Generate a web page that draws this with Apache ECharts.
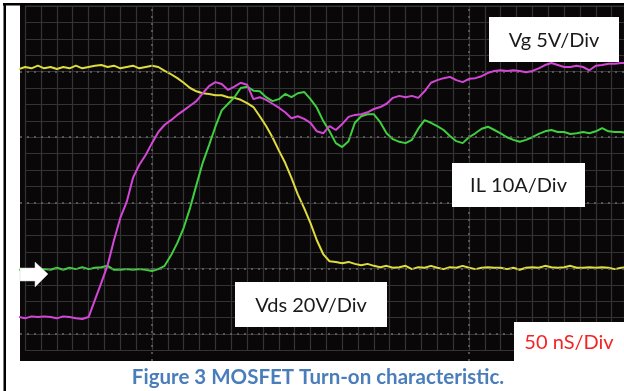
<!DOCTYPE html>
<html>
<head>
<meta charset="utf-8">
<script src="https://cdn.jsdelivr.net/npm/echarts@6/dist/echarts.min.js"></script>
<style>
  html, body { margin: 0; padding: 0; background: #fff; }
  #chart { width: 624px; height: 391px; }
</style>
</head>
<body>
<div id="chart"></div>
<script>
// time base in ns (50 ns/Div, dotted lines every division)
const time = [-21,-20,-19,-18,-17,-16,-15,-14,-13,-12,-11,-10,-9,-8,-7,-6,-5,-4,-3,-2,-1,
  0,1,2,3,4,5,6,7,8,9,10,11,12,13,14,15,16,17,18,19,20,21,22,23,24,25,26,27,28,29,30,
  31,32,33,34,35,36,37,38,39,40,41,42,43,44,45,46,47,48,49,50,51,52,53,54,55,56,57,58,59,60,
  61,62,63,64,65,66,67,68,69,70,71,72,73,74,75];

// trace levels in screen divisions from the lower dotted line
const vds = [4.04,4.07,4.05,4.09,4.05,4.07,4.04,4.07,4.05,4.09,4.05,4.07,4.09,4.10,4.07,4.09,4.05,4.07,4.09,4.05,4.07,
  4.09,4.07,4.01,3.96,3.90,3.83,3.75,3.70,3.67,3.66,3.64,3.64,3.61,3.60,3.57,3.52,3.46,3.32,3.17,3.00,2.80,2.61,2.38,2.13,1.92,1.69,1.43,1.22,1.11,1.10,1.08,
  1.10,1.07,1.05,1.07,1.04,1.02,1.04,1.01,1.02,1.04,0.99,1.02,1.01,1.04,1.01,0.99,1.02,1.01,1.04,1.01,0.99,1.01,1.02,1.01,1.01,0.99,1.01,0.98,1.01,1.02,
  1.01,1.04,1.02,1.01,1.02,1.04,1.01,1.01,1.02,1.01,1.02,1.01,0.99,1.01,1.02];

const vg = [0.26,0.24,0.27,0.26,0.27,0.26,0.24,0.27,0.26,0.24,0.23,0.26,0.52,0.78,1.05,1.43,1.77,2.01,2.38,2.58,2.73,
  2.91,3.08,3.19,3.26,3.34,3.41,3.48,3.55,3.67,3.78,3.84,3.81,3.72,3.77,3.83,3.80,3.58,3.61,3.57,3.51,3.45,3.38,3.29,3.32,3.28,3.22,3.09,3.06,3.17,3.11,3.20,
  3.31,3.34,3.35,3.38,3.43,3.46,3.51,3.60,3.63,3.61,3.63,3.60,3.70,3.83,3.87,3.90,3.92,3.87,3.84,3.89,3.90,3.93,3.98,4.01,4.02,4.01,4.02,4.01,3.99,4.01,
  4.05,4.10,4.13,4.10,4.07,4.07,4.09,4.07,4.02,4.09,4.10,4.12,4.12,4.13,4.13];

const il = [0.98,0.98,0.96,0.98,0.99,0.98,1.01,0.98,1.01,0.99,1.02,0.99,1.01,1.02,1.04,0.98,0.98,0.99,0.98,0.99,0.98,
  0.96,0.99,1.04,1.20,1.39,1.62,1.92,2.27,2.61,2.88,3.16,3.41,3.51,3.61,3.75,3.77,3.71,3.70,3.61,3.55,3.58,3.66,3.61,3.67,3.69,3.58,3.45,3.25,3.09,2.91,2.85,
  2.94,3.22,3.32,3.35,3.35,3.23,3.06,2.97,2.93,2.91,2.96,3.13,3.26,3.22,3.17,3.11,3.02,2.94,2.91,3.00,3.06,3.13,3.16,3.11,3.06,3.00,2.96,2.93,2.96,3.00,
  3.05,3.09,3.11,3.08,3.08,3.05,3.06,3.08,3.06,3.09,3.14,3.09,3.08,3.08,3.06];

const dottedTimes = [0, 50];
const dottedLevels = [0, 1, 2, 3, 4];

const channelLabels = [
  { text: 'Vg 5V/Div', box: [489, 17, 130, 45], color: '#1a1a1a' },
  { text: 'IL 10A/Div', box: [452, 163, 133, 44], color: '#1a1a1a' },
  { text: 'Vds 20V/Div', box: [235, 282, 152, 45], color: '#1a1a1a' },
  { text: '50 nS/Div', box: [514, 322, 110, 39], color: '#f42424' }
];
const caption = 'Figure 3 MOSFET Turn-on characteristic.';

const chart = echarts.init(document.getElementById('chart'));

const hidden = { show: false };
const pair = arr => time.map((t, i) => [t, arr[i]]);

const labelGraphics = [];
channelLabels.forEach(l => {
  labelGraphics.push({
    type: 'rect', z: 100,
    shape: { x: l.box[0], y: l.box[1], width: l.box[2], height: l.box[3] },
    style: { fill: '#ffffff' }
  });
  labelGraphics.push({
    type: 'text', z: 101,
    style: {
      x: l.box[0] + l.box[2] / 2, y: l.box[1] + l.box[3] / 2 + 1,
      text: l.text, fill: l.color,
      font: '20px Lato',
      align: 'center', verticalAlign: 'middle',
      textAlign: 'center', textVerticalAlign: 'middle'
    }
  });
});

chart.setOption({
  animation: false,
  backgroundColor: '#ffffff',
  grid: [
    { left: 20, right: 0, top: 5, bottom: 30, show: true, backgroundColor: '#0a0709', borderWidth: 0 },
    { left: 25.2, right: 0, top: 5, bottom: 40.6, show: false }
  ],
  xAxis: [
    { type: 'value', gridIndex: 0, min: -20.82, max: 74.45,
      axisLine: hidden, axisTick: hidden, axisLabel: hidden, splitLine: hidden },
    { type: 'value', gridIndex: 1, min: -20, max: 74.45, interval: 2.5,
      axisLine: hidden, axisTick: hidden, axisLabel: hidden,
      splitLine: { show: true, lineStyle: { color: '#343434', width: 1.2 } } }
  ],
  yAxis: [
    { type: 'value', gridIndex: 0, min: -0.41, max: 5.015,
      axisLine: hidden, axisTick: hidden, axisLabel: hidden, splitLine: hidden },
    { type: 'value', gridIndex: 1, min: -0.25, max: 5.015, interval: 0.25,
      axisLine: hidden, axisTick: hidden, axisLabel: hidden,
      splitLine: { show: true, lineStyle: { color: '#343434', width: 1.2 } } }
  ],
  series: [
    {
      type: 'line', name: 'graticule', xAxisIndex: 0, yAxisIndex: 0, z: 1,
      data: [], symbol: 'none',
      markLine: {
        silent: true, symbol: 'none', label: { show: false },
        lineStyle: { color: '#6a6a6a', width: 1.5, type: [2, 5] },
        data: dottedTimes.map(t => ({ xAxis: t })).concat(dottedLevels.map(v => ({ yAxis: v })))
      }
    },
    { type: 'line', name: 'Vds', data: pair(vds), symbol: 'none', z: 3,
      lineStyle: { color: '#e0dc3e', width: 2 } },
    { type: 'line', name: 'IL', data: pair(il), symbol: 'none', z: 4,
      lineStyle: { color: '#3fcf3f', width: 2 } },
    { type: 'line', name: 'Vg', data: pair(vg), symbol: 'none', z: 5,
      lineStyle: { color: '#d447d6', width: 2 } }
  ],
  graphic: [
    // outer frame
    { type: 'rect', shape: { x: 3, y: 3, width: 621, height: 2.5 }, style: { fill: '#000' }, z: 50 },
    { type: 'rect', shape: { x: 3.5, y: 3, width: 2.5, height: 388 }, style: { fill: '#000' }, z: 50 },
    // channel ground marker
    { type: 'polygon', z: 60,
      shape: { points: [[20, 268], [35, 268], [35, 262], [48, 274], [35, 287], [35, 281], [20, 281]] },
      style: { fill: '#ffffff', stroke: '#d0d0d0', lineWidth: 0.5 } },
    {
      type: 'text', z: 101,
      style: {
        x: 318, y: 377, text: caption, fill: '#4a7ebb',
        font: 'bold 20.5px Lato',
        align: 'center', verticalAlign: 'middle',
        textAlign: 'center', textVerticalAlign: 'middle'
      }
    }
  ].concat(labelGraphics)
});
</script>
</body>
</html>
